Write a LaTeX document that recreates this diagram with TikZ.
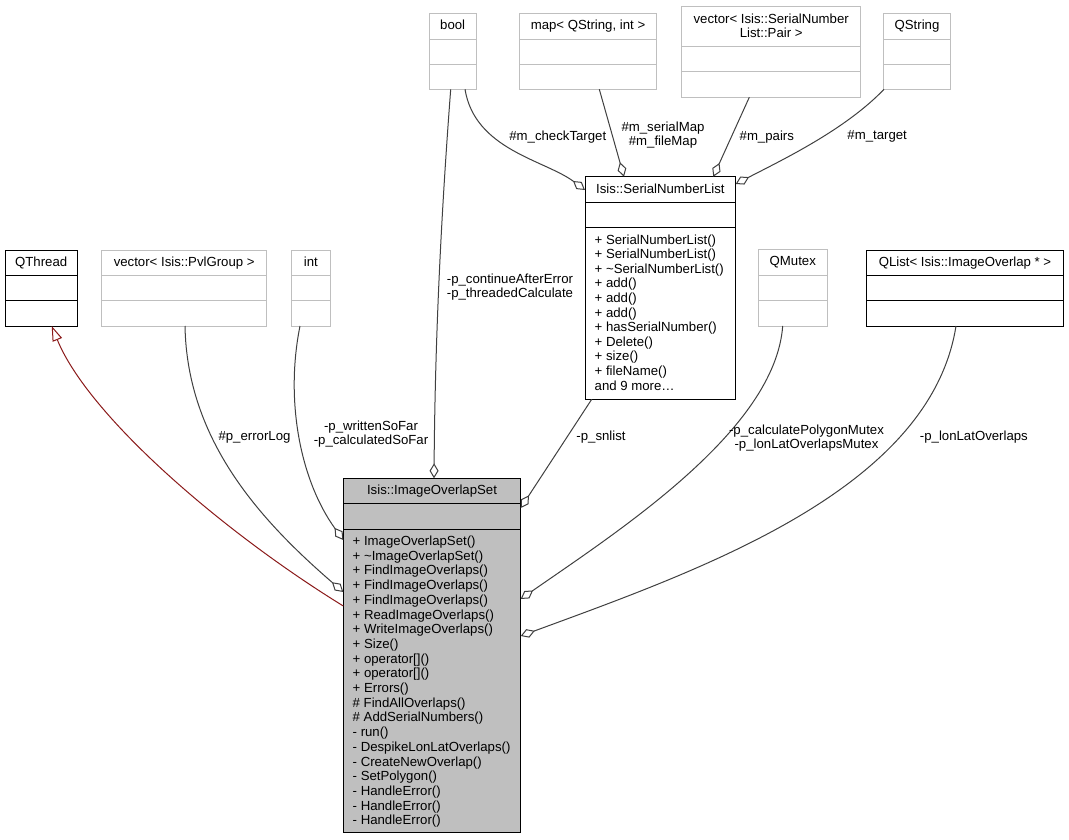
\documentclass[tikz,border=0pt]{standalone}
\usepackage{fontspec}
\setmainfont{Liberation Sans}
\usetikzlibrary{arrows.meta,calc}
\definecolor{edgec}{HTML}{404040}
\definecolor{lightb}{HTML}{BFBFBF}
\definecolor{inhc}{HTML}{8B1A1A}
\definecolor{mainfill}{HTML}{BFBFBF}
\newcommand\umlbox[8]{%
  \node[#8box, anchor=north west, inner sep=0pt, outer sep=0pt,
        minimum width={(#4)-(#2)}, minimum height={(#5)-(#3)}] (#1) at (#2,#3) {};
  \draw[#8sep] (#2,#6) -- (#4,#6) (#2,#7) -- (#4,#7);
}
\begin{document}
\begin{tikzpicture}[x=1pt,y=-1pt,
  txt/.style={font=\fontsize{13.2}{14}\selectfont, inner sep=0pt, text=black},
  darkbox/.style={draw=black, line width=1pt, fill=white},
  lightbox/.style={draw=lightb, line width=1pt, fill=white},
  mainbox/.style={draw=black, line width=1pt, fill=mainfill},
  darksep/.style={draw=black, line width=1pt},
  lightsep/.style={draw=lightb, line width=1pt},
  mainsep/.style={draw=black, line width=1pt},
  conn/.style={draw=edgec, line width=1pt},
  agg/.style={conn, {Diamond[length=15pt,width=9pt,fill=white,line width=1pt]}-},
  inh/.style={draw=inhc, line width=1pt, -{Triangle[length=15pt,width=10pt,fill=white,line width=1pt]}},
  lbl/.style={txt, align=center}
]
\fill[white] (0,0) rectangle (1069,840);
\useasboundingbox (0,0) rectangle (1069,840);

% boxes
\umlbox{qthread}{5}{250}{77.3}{326}{275}{300.7}{dark}
\umlbox{vecpvl}{101.7}{250}{266.7}{326}{275}{300.7}{light}
\umlbox{int}{291.7}{250}{330}{326}{275}{300.7}{light}
\umlbox{bool}{429.3}{13.3}{476}{89.3}{39.3}{65}{light}
\umlbox{map}{519.3}{13.3}{656.7}{89.3}{39.3}{65}{light}
\umlbox{vecpair}{681.7}{6.7}{860.7}{97.3}{46.7}{71.7}{light}
\umlbox{qstring}{883.3}{13.3}{950.7}{89.3}{39.3}{65}{light}
\umlbox{snl}{585}{176.7}{735.7}{399.3}{202.3}{227.3}{dark}
\umlbox{qmutex}{758.3}{249.3}{827.3}{326}{275}{300.7}{light}
\umlbox{qlist}{866.7}{250}{1063.3}{326}{275}{300.7}{dark}
\umlbox{main}{343.3}{478.3}{520.7}{832.7}{503.3}{529.3}{main}

% titles
\node[txt, anchor=base] (qthreadT) at (41.2,266.5) {QThread};
\node[txt, anchor=base] (vecpvlT) at (184.2,266.5) {vector< Isis::PvlGroup >};
\node[txt, anchor=base] (intT) at (310.9,266.5) {int};
\node[txt, anchor=base] (boolT) at (452.7,29.8) {bool};
\node[txt, anchor=base] (mapT) at (588,29.8) {map< QString, int >};
\node[txt, anchor=base] (vecpairT1) at (771.2,23.2) {vector< Isis::SerialNumber};
\node[txt, anchor=base] (vecpairT2) at (771.2,37.9) {List::Pair >};
\node[txt, anchor=base] (qstringT) at (917,29.8) {QString};
\node[txt, anchor=base] (snlT) at (660.4,193.2) {Isis::SerialNumberList};
\node[txt, anchor=base] (qmutexT) at (792.8,265.8) {QMutex};
\node[txt, anchor=base] (qlistT) at (965,266.5) {QList< Isis::ImageOverlap * >};
\node[txt, anchor=base] (mainT) at (432,494.8) {Isis::ImageOverlapSet};

% member lists
\foreach [count=\i from 0] \t in {+ SerialNumberList(), + SerialNumberList(),
  + \textasciitilde SerialNumberList(), + add(), + add(), + add(), + hasSerialNumber(),
  + Delete(), + size(), + fileName(), {and 9 more\ldots}}
  \node[txt, anchor=base west] (snlm\i) at (594.5,244+14.6*\i) {\t};

\foreach [count=\i from 0] \t in {+ ImageOverlapSet(), + \textasciitilde ImageOverlapSet(),
  + FindImageOverlaps(), + FindImageOverlaps(), + FindImageOverlaps(),
  + ReadImageOverlaps(), + WriteImageOverlaps(), + Size(), + operator[](),
  + operator[](), + Errors(), \# FindAllOverlaps(), \# AddSerialNumbers(),
  - run(), - DespikeLonLatOverlaps(), - CreateNewOverlap(), - SetPolygon(),
  - HandleError(), - HandleError(), - HandleError()}
  \node[txt, anchor=base west] (mainm\i) at (352.5,545.5+14.7*\i) {\t};

% connectors
\draw[inh] ($(main.north west)+(0,127.7)$) .. controls (220,530) and (88,415) .. ($(qthread.south west)+(46.7,0)$);
\draw[agg] ($(main.north west)+(0,113.7)$) .. controls (260,520) and (187,440) .. ($(vecpvl.south west)+(83.3,0)$);
\draw[agg] ($(main.north west)+(0,61.7)$) .. controls (300,480) and (285,400) .. ($(int.south west)+(8.3,0)$);
\draw[agg] ($(main.north west)+(90.7,0)$) .. controls (435,350) and (440,230) .. ($(bool.south west)+(21.4,0)$);
\draw[agg] ($(snl.north west)+(0,13.3)$) .. controls (545,160) and (475,150) .. ($(bool.south west)+(35.7,0)$);
\draw[agg] ($(snl.north west)+(39,0)$) -- ($(map.south west)+(80,0)$);
\draw[agg] ($(snl.north west)+(128.3,0)$) -- ($(vecpair.south west)+(67.6,0)$);
\draw[agg] ($(snl.north east)+(0,7.3)$) .. controls (782,160) and (845,130) .. ($(qstring.south west)+(0.7,0)$);
\draw[agg] ($(main.north east)+(0,29.7)$) -- ($(snl.south west)+(6.7,0)$);
\draw[agg] ($(main.north east)+(0,120.7)$) .. controls (620,530) and (775,430) .. ($(qmutex.south west)+(24.4,0)$);
\draw[agg] ($(main.north east)+(0,157.7)$) .. controls (700,570) and (930,490) .. ($(qlist.south west)+(89.3,0)$);

% labels
\node[lbl] (lblErr) at (254.5,437.3) {\#p\_errorLog};
\node[lbl] (lblInt) at (371,434.3) {-p\_writtenSoFar\\-p\_calculatedSoFar};
\node[lbl] (lblBool) at (510,286.7) {-p\_continueAfterError\\-p\_threadedCalculate};
\node[lbl] (lblCheck) at (557.8,136.7) {\#m\_checkTarget};
\node[lbl] (lblMap) at (663,134.7) {\#m\_serialMap\\\#m\_fileMap};
\node[lbl] (lblPairs) at (766.8,136.7) {\#m\_pairs};
\node[lbl] (lblTarget) at (877.2,136.7) {\#m\_target};
\node[lbl] (lblSn) at (601,437.3) {-p\_snlist};
\node[lbl] (lblMutex) at (806.5,437.7) {-p\_calculatePolygonMutex\\-p\_lonLatOverlapsMutex};
\node[lbl] (lblQList) at (973.9,437.3) {-p\_lonLatOverlaps};
\end{tikzpicture}
\end{document}
